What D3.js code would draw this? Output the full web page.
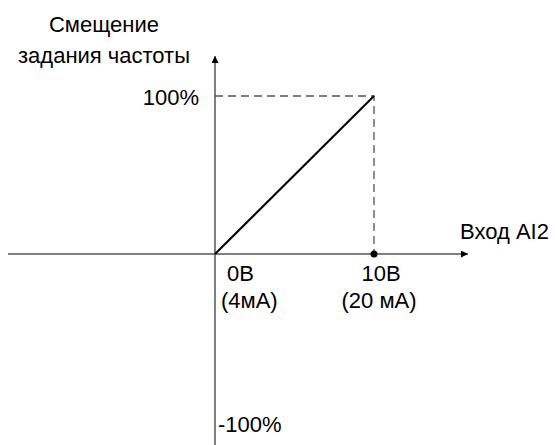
<!DOCTYPE html>
<html>
<head>
<meta charset="utf-8">
<script src="https://cdn.jsdelivr.net/npm/d3@7"></script>
<style>
  html, body { margin: 0; padding: 0; background: #fff; }
  svg { display: block; font-family: "Liberation Sans", Arial, sans-serif; }
</style>
</head>
<body>
<div id="chart"></div>
<script>
// characteristic: input voltage (V) -> frequency offset (%)
const inputVolts = [0, 10];
const offsetPct = [0, 100];
const xTicks = [
    { v: 0, top: '0В', bottom: '(4мА)' },
    { v: 10, top: '10В', bottom: '(20 мА)' }
];
const yTicks = [
    { v: 100, label: '100%' },
    { v: -100, label: '-100%' }
];
const yTitle = ['Смещение', 'задания частоты'];
const xTitle = 'Вход AI2';

const width = 555;
const height = 445;

const x = d3.scaleLinear().domain([0, 10]).range([215, 374]);
const y = d3.scaleLinear().domain([0, 100]).range([254, 96]);

const svg = d3.select('#chart')
    .append('svg')
    .attr('width', width)
    .attr('height', height);

const defs = svg.append('defs');
defs.append('marker')
    .attr('id', 'arrow')
    .attr('viewBox', '0 0 10 10')
    .attr('refX', 10)
    .attr('refY', 5)
    .attr('markerWidth', 9)
    .attr('markerHeight', 7)
    .attr('markerUnits', 'userSpaceOnUse')
    .attr('orient', 'auto')
    .append('path')
    .attr('d', 'M0,0 L10,5 L0,10 Z')
    .attr('fill', '#000');

// axes
svg.append('line')
    .attr('x1', 8).attr('x2', 468)
    .attr('y1', y(0)).attr('y2', y(0))
    .attr('stroke', '#555').attr('stroke-width', 1.5)
    .attr('marker-end', 'url(#arrow)');

svg.append('line')
    .attr('x1', x(0)).attr('x2', x(0))
    .attr('y1', height).attr('y2', 56)
    .attr('stroke', '#555').attr('stroke-width', 1.5)
    .attr('marker-end', 'url(#arrow)');

// guides
const xMax = inputVolts[inputVolts.length - 1];
const yMax = offsetPct[offsetPct.length - 1];
svg.append('path')
    .attr('d', `M${x(0)},${y(yMax)} H${x(xMax)} V${y(0)}`)
    .attr('fill', 'none')
    .attr('stroke', '#555')
    .attr('stroke-width', 1.3)
    .attr('stroke-dasharray', '8,5');

// characteristic line
const line = d3.line()
    .x((d, i) => x(inputVolts[i]))
    .y(d => y(d));

svg.append('path')
    .datum(offsetPct)
    .attr('d', line)
    .attr('fill', 'none')
    .attr('stroke', '#000')
    .attr('stroke-width', 2);

svg.append('circle')
    .attr('cx', x(xMax))
    .attr('cy', y(0))
    .attr('r', 3.5)
    .attr('fill', '#000');

// labels
const txt = svg.append('g')
    .attr('font-size', 22)
    .attr('fill', '#000');

txt.selectAll('text.ytitle')
    .data(yTitle)
    .join('text')
    .attr('class', 'ytitle')
    .attr('x', 104)
    .attr('y', (d, i) => 32 + i * 31)
    .attr('text-anchor', 'middle')
    .text(d => d);

txt.append('text')
    .attr('x', 460)
    .attr('y', 239)
    .text(xTitle);

txt.append('text')
    .attr('x', 199)
    .attr('y', y(100) + 9)
    .attr('text-anchor', 'end')
    .text(yTicks[0].label);

txt.append('text')
    .attr('x', 218)
    .attr('y', 432)
    .text(yTicks[1].label);

txt.append('text')
    .attr('x', x(0) + 12)
    .attr('y', 281)
    .text(xTicks[0].top);
txt.append('text')
    .attr('x', x(0) + 6)
    .attr('y', 308)
    .text(xTicks[0].bottom);

txt.append('text')
    .attr('x', x(10) + 7)
    .attr('y', 281)
    .attr('text-anchor', 'middle')
    .text(xTicks[1].top);
txt.append('text')
    .attr('x', x(10) + 5)
    .attr('y', 308)
    .attr('text-anchor', 'middle')
    .text(xTicks[1].bottom);
</script>
</body>
</html>
